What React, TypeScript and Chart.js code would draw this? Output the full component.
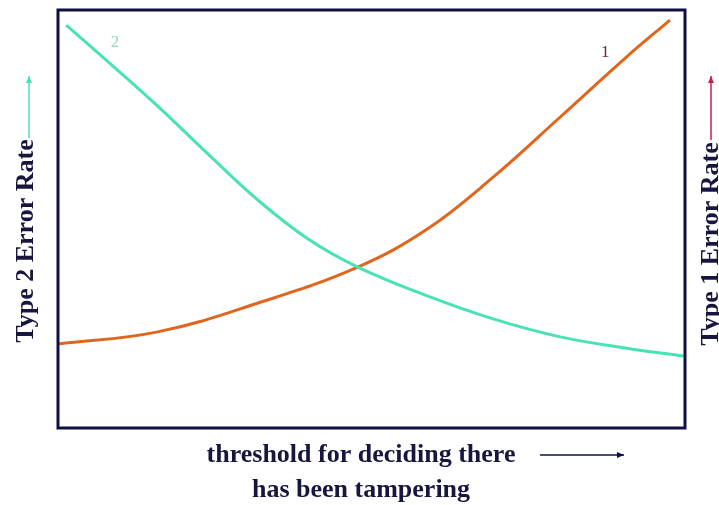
import React, { useEffect, useRef } from "react";
import { Chart, registerables } from "chart.js";

Chart.register(...registerables);

// Threshold position (0-100) and error rates (0-100)
const type2X = [1.3, 8, 15.9, 23.9, 31.9, 39.9, 47.8, 58.9, 69.4, 80.1, 90.7, 99.8];
const type2Y = [96.4, 87.6, 77.0, 65.6, 54.5, 45.2, 38.5, 31.6, 26.1, 21.8, 19.1, 17.2];
const type1X = [0, 15.9, 31.9, 47.8, 58.9, 69.4, 80.1, 90.7, 97.6];
const type1Y = [20.1, 23.0, 29.9, 38.5, 47.6, 60.0, 74.4, 88.8, 97.6];

const leftTitle = "Type 2 Error Rate";
const rightTitle = "Type 1 Error Rate";
const xTitleLines = ["threshold for deciding there", "has been tampering"];
const curveLabels = ["1", "2"];

const NAVY = "#0f0f45";
const TEXT = "#16163e";
const TEAL = "#48e2b6";
const ORANGE = "#e0661e";
const FONT = "'Liberation Serif', serif";

function arrow(ctx: CanvasRenderingContext2D, x1: number, y1: number, x2: number, y2: number, color: string) {
  ctx.save();
  ctx.strokeStyle = color;
  ctx.fillStyle = color;
  ctx.lineWidth = 1.5;
  ctx.beginPath();
  ctx.moveTo(x1, y1);
  ctx.lineTo(x2, y2);
  ctx.stroke();
  const ang = Math.atan2(y2 - y1, x2 - x1);
  const L = 7, W = 3;
  ctx.beginPath();
  ctx.moveTo(x2, y2);
  ctx.lineTo(x2 - L * Math.cos(ang) + W * Math.sin(ang), y2 - L * Math.sin(ang) - W * Math.cos(ang));
  ctx.lineTo(x2 - L * Math.cos(ang) - W * Math.sin(ang), y2 - L * Math.sin(ang) + W * Math.cos(ang));
  ctx.closePath();
  ctx.fill();
  ctx.restore();
}

const decorPlugin = {
  id: "decor",
  afterDraw(chart: any) {
    const { ctx, chartArea } = chart;
    const { left, top, right, bottom } = chartArea;
    ctx.save();
    // frame
    ctx.strokeStyle = NAVY;
    ctx.lineWidth = 3;
    ctx.strokeRect(left, top, right - left, bottom - top);

    // curve labels
    const xs = chart.scales.x;
    const ys = chart.scales.y;
    ctx.font = `17px ${FONT}`;
    ctx.textAlign = "center";
    ctx.textBaseline = "middle";
    ctx.fillStyle = "#702040";
    ctx.fillText(curveLabels[0], xs.getPixelForValue(87.3), ys.getPixelForValue(89.9));
    ctx.fillStyle = "#98d4c2";
    ctx.fillText(curveLabels[1], xs.getPixelForValue(9.1), ys.getPixelForValue(92.1));

    // titles
    ctx.fillStyle = TEXT;
    ctx.font = `bold 26px ${FONT}`;
    ctx.textBaseline = "alphabetic";
    ctx.save();
    ctx.translate(33, 241);
    ctx.rotate(-Math.PI / 2);
    ctx.textAlign = "center";
    ctx.fillText(leftTitle, 0, 0);
    ctx.restore();
    arrow(ctx, 29, 138, 29, 76, TEAL);

    ctx.save();
    ctx.translate(718, 244);
    ctx.rotate(-Math.PI / 2);
    ctx.textAlign = "center";
    ctx.fillText(rightTitle, 0, 0);
    ctx.restore();
    arrow(ctx, 711, 140, 711, 76, "#c8204c");

    ctx.textAlign = "center";
    ctx.fillText(xTitleLines[0], 361, 462);
    ctx.fillText(xTitleLines[1], 361, 497);
    arrow(ctx, 540, 455, 624, 455, NAVY);
    ctx.restore();
  },
};

export default function App() {
  const ref = useRef<HTMLCanvasElement>(null);
  useEffect(() => {
    if (!ref.current) return;
    const chart = new Chart(ref.current, {
      type: "line",
      data: {
        datasets: [
          {
            label: "Type 2",
            data: type2X.map((x, i) => ({ x, y: type2Y[i] })),
            borderColor: TEAL,
            borderWidth: 3,
            pointRadius: 0,
            tension: 0.4,
            fill: false,
          },
          {
            label: "Type 1",
            data: type1X.map((x, i) => ({ x, y: type1Y[i] })),
            borderColor: ORANGE,
            borderWidth: 3,
            pointRadius: 0,
            tension: 0.4,
            fill: false,
          },
        ],
      },
      options: {
        animation: false,
        responsive: false,
        devicePixelRatio: 1,
        layout: { padding: { left: 58, top: 10, right: 34, bottom: 77 } },
        plugins: { legend: { display: false }, tooltip: { enabled: false } },
        scales: {
          x: { type: "linear", min: 0, max: 100, display: false },
          y: { type: "linear", min: 0, max: 100, display: false },
        },
      },
      plugins: [decorPlugin],
    } as any);
    let alive = true;
    const fonts = (document as any).fonts;
    if (fonts && fonts.load) {
      Promise.all([fonts.load(`bold 26px 'Liberation Serif'`), fonts.load(`17px 'Liberation Serif'`)])
        .then(() => {
          if (alive) chart.update("none");
        })
        .catch(() => {});
    }
    return () => {
      alive = false;
      chart.destroy();
    };
  }, []);
  return (
    <div style={{ position: "fixed", left: 0, top: 0, width: 719, height: 505, background: "#fff" }}>
      <canvas ref={ref} width={719} height={505} />
    </div>
  );
}
